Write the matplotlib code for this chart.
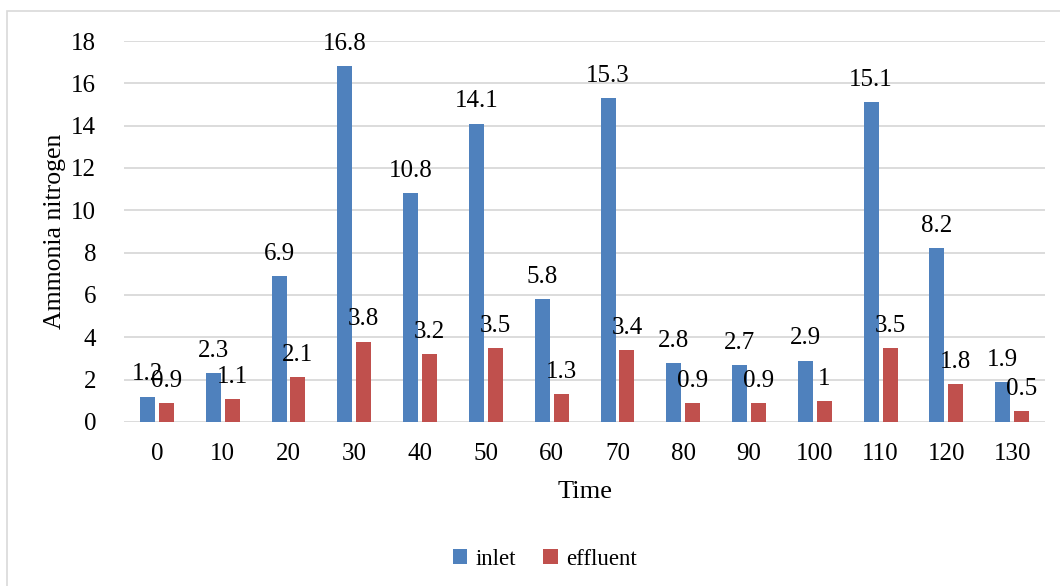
import numpy as np
import matplotlib.pyplot as plt
from matplotlib.patches import Rectangle

plt.rcParams['font.family'] = ['Liberation Serif', 'DejaVu Serif']

times = [0, 10, 20, 30, 40, 50, 60, 70, 80, 90, 100, 110, 120, 130]
inlet = [1.2, 2.3, 6.9, 16.8, 10.8, 14.1, 5.8, 15.3, 2.8, 2.7, 2.9, 15.1, 8.2, 1.9]
effluent = [0.9, 1.1, 2.1, 3.8, 3.2, 3.5, 1.3, 3.4, 0.9, 0.9, 1, 3.5, 1.8, 0.5]
yticks = [0, 2, 4, 6, 8, 10, 12, 14, 16, 18]

fig = plt.figure(figsize=(10.6, 5.86), dpi=100)
ax = fig.add_axes([0.117, 0.280, 0.869, 0.650])

x = np.arange(len(times))
w = 0.228
off = 0.144
b1 = ax.bar(x - off, inlet, w, color='#4f81bd', label='inlet', zorder=3)
b2 = ax.bar(x + off, effluent, w, color='#c0504d', label='effluent', zorder=3)

# value labels above each bar, as in the spreadsheet chart
for bars, vals in [(b1, inlet), (b2, effluent)]:
    for r, v in zip(bars, vals):
        ax.annotate(f'{v:g}', (r.get_x() + r.get_width() / 2, r.get_height()),
                    xytext=(0, 8), textcoords='offset points',
                    ha='center', va='bottom', fontsize=18, zorder=4)

ax.set_xlim(-0.5, len(times) - 0.5)
ax.set_ylim(0, 18)
ax.set_yticks(yticks)
ax.set_xticks(x)
ax.set_xticklabels([str(t) for t in times])
ax.tick_params(length=0, labelsize=18)
ax.tick_params(axis='x', pad=15)
ax.tick_params(axis='y', pad=20)
ax.grid(axis='y', color='#d9d9d9', lw=1.3, zorder=0)
for s in ax.spines.values():
    s.set_visible(False)

ax.set_xlabel('Time', fontsize=19, labelpad=12)
ax.set_ylabel('Ammonia nitrogen', fontsize=18.5, labelpad=4)

fig.legend(handles=[b1, b2], loc='center', bbox_to_anchor=(0.514, 0.046),
           ncol=2, frameon=False, fontsize=16.5, handlelength=0.65,
           handleheight=0.65, columnspacing=1.2, handletextpad=0.35)

fig.patches.append(Rectangle((7 / 1060, -0.05), 1.2, 1 - 11 / 586 + 0.05,
                             transform=fig.transFigure, fill=False,
                             edgecolor='#d9d9d9', lw=1.2))

fig.savefig('out.png', dpi=100)
